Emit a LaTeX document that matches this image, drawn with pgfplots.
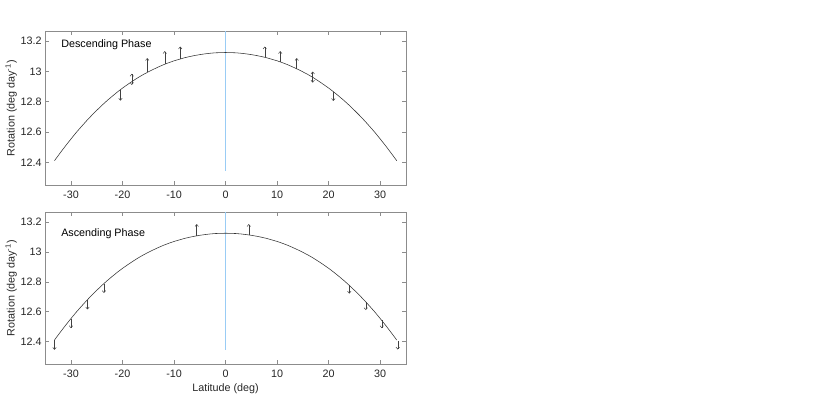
\documentclass[border=0pt]{standalone}
\usepackage{fontspec}
\setmainfont{Liberation Sans}
\usepackage{pgfplots}
\usepackage{pgfplotstable}
\pgfplotsset{compat=1.18}
\usetikzlibrary{arrows.meta}
\definecolor{zline}{rgb}{0.6,0.8,0.96}
\definecolor{axc}{rgb}{0.55,0.55,0.55}
\definecolor{txt}{rgb}{0.15,0.15,0.15}

\pgfplotstableread{
lat w
-33.2 12.410
-33 12.420
-32 12.466
-31 12.511
-30 12.554
-29 12.596
-28 12.635
-27 12.673
-26 12.709
-25 12.743
-24 12.776
-23 12.807
-22 12.836
-21 12.864
-20 12.890
-19 12.914
-18 12.937
-17 12.959
-16 12.979
-15 12.997
-14 13.014
-13 13.030
-12 13.045
-11 13.058
-10 13.070
-9 13.080
-8 13.090
-7 13.098
-6 13.105
-5 13.111
-4 13.116
-3 13.120
-2 13.123
-1 13.124
0 13.125
1 13.124
2 13.123
3 13.120
4 13.116
5 13.111
6 13.105
7 13.098
8 13.090
9 13.080
10 13.070
11 13.058
12 13.045
13 13.030
14 13.014
15 12.997
16 12.979
17 12.959
18 12.937
19 12.914
20 12.890
21 12.864
22 12.836
23 12.807
24 12.776
25 12.743
26 12.709
27 12.673
28 12.635
29 12.596
30 12.554
31 12.511
32 12.466
33 12.420
33.2 12.410
}\curve

\pgfplotstableread{
x y u v
-20.4 12.880 0 -0.073
-15.2 12.994 0 0.094
-11.8 13.047 0 0.087
-8.8 13.082 0 0.082
7.6 13.093 0 0.071
10.6 13.063 0 0.071
13.8 13.018 0 0.070
20.9 12.867 0 -0.062
}\topsingle

\pgfplotstableread{
x y u v
-18.2 12.911 0 0.073
16.9 12.926 0 0.073
}\topdouble

\pgfplotstableread{
x y u v
-33.2 12.410 0 -0.065
-30.0 12.554 0 -0.064
-26.8 12.680 0 -0.065
-23.6 12.788 0 -0.063
-5.6 13.108 0 0.078
4.5 13.114 0 0.072
24.0 12.776 0 -0.055
27.2 12.666 0 -0.055
30.3 12.542 0 -0.052
33.4 12.405 0 -0.058
}\botsingle

\pgfplotsset{
  myax/.style={
    scale only axis,
    width=360.8bp,
    xmin=-35, xmax=35,
    ymin=12.25, ymax=13.265,
    xtick={-30,-20,-10,0,10,20,30},
    ytick={12.4,12.6,12.8,13,13.2},
    tick align=inside,
    xtick pos=both, ytick pos=both,
    axis line style={axc, line width=0.5bp},
    major tick style={axc, line width=0.5bp},
    major tick length=3.6bp,
    tick label style={font=\fontsize{10.8}{13}\selectfont, text=txt},
    xticklabel style={yshift=-2bp},
    /pgf/number format/assume math mode=true,
    label style={font=\fontsize{10.8}{13}\selectfont, text=txt},
    ylabel={Rotation (deg day\textsuperscript{-1})},
    ylabel style={yshift=-3bp},
  },
  curvest/.style={black!80, line width=0.55bp, no marks},
  zst/.style={zline, line width=0.8bp, no marks},
  arrst/.style={no marks, black!75, line width=0.5bp},
}

\begin{document}
\begin{tikzpicture}[x=1bp,y=1bp]
\useasboundingbox (0,0) rectangle (839,410);
\begin{axis}[myax, at={(45.2bp,225bp)}, anchor=south west, height=153.7bp]
  \addplot[zst] coordinates {(0,12.345) (0,13.4)};
  \addplot[curvest] table[x=lat,y=w] {\curve};
  \addplot[arrst, quiver={u=\thisrow{u}, v=\thisrow{v}, every arrow/.append style={-{Straight Barb[length=2bp,width=3.5bp]}}}] table[x=x,y=y] {\topsingle};
  \addplot[arrst, quiver={u=\thisrow{u}, v=\thisrow{v}, every arrow/.append style={{Straight Barb[length=2bp,width=3.5bp]}-{Straight Barb[length=2bp,width=3.5bp]}}}] table[x=x,y=y] {\topdouble};
  \node[anchor=base west, inner sep=0, font=\fontsize{10.8}{13}\selectfont, text=black] at (rel axis cs:0.044,0.896) {Descending Phase};
\end{axis}
\begin{axis}[myax, at={(45.2bp,46bp)}, anchor=south west, height=151.7bp, xlabel={Latitude (deg)}]
  \addplot[zst] coordinates {(0,12.345) (0,13.4)};
  \addplot[curvest] table[x=lat,y=w] {\curve};
  \addplot[arrst, quiver={u=\thisrow{u}, v=\thisrow{v}, every arrow/.append style={-{Straight Barb[length=2bp,width=3.5bp]}}}] table[x=x,y=y] {\botsingle};
  \node[anchor=base west, inner sep=0, font=\fontsize{10.8}{13}\selectfont, text=black] at (rel axis cs:0.044,0.839) {Ascending Phase};
\end{axis}
\end{tikzpicture}
\end{document}
